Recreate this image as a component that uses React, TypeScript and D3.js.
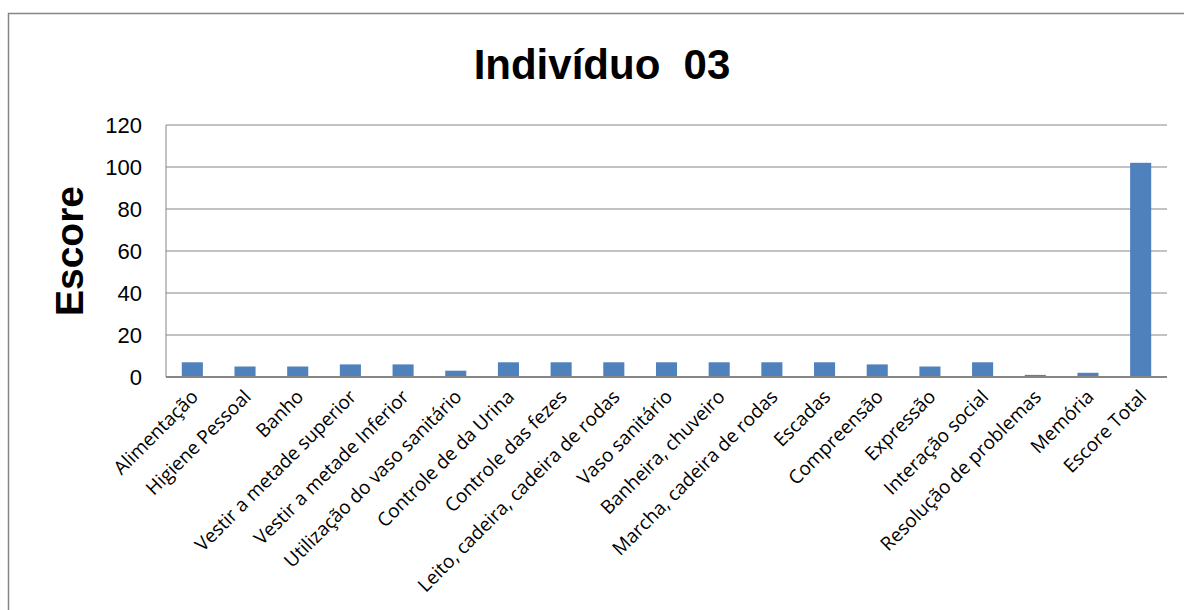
import * as d3 from "d3";

const categories = [
  "Alimentação",
  "Higiene Pessoal",
  "Banho",
  "Vestir a metade superior",
  "Vestir a metade Inferior",
  "Utilização do vaso sanitário",
  "Controle de da Urina",
  "Controle das fezes",
  "Leito, cadeira, cadeira de rodas",
  "Vaso sanitário",
  "Banheira, chuveiro",
  "Marcha, cadeira de rodas",
  "Escadas",
  "Compreensão",
  "Expressão",
  "Interação social",
  "Resolução de problemas",
  "Memória",
  "Escore Total",
];
const scores = [7, 5, 5, 6, 6, 3, 7, 7, 7, 7, 7, 7, 7, 6, 5, 7, 1, 2, 102];
const yTicks = [0, 20, 40, 60, 80, 100, 120];

const W = 1184, H = 610;
const plot = { left: 166, right: 1167, top: 125, bottom: 377 };
const font = "'Liberation Sans', Arial, sans-serif";
const labelFont = "'Open Sans', sans-serif";

export default function App() {
  const x = d3.scaleBand<string>()
    .domain(categories)
    .range([plot.left, plot.right])
    .paddingInner(0.6)
    .paddingOuter(0.3);
  const y = d3.scaleLinear().domain([0, 120]).range([plot.bottom, plot.top]);

  return (
    <svg width={W} height={H} style={{ position: "absolute", left: 0, top: 0, background: "#fff" }}>
      {/* chart border */}
      <rect x={8.5} y={13.5} width={1400} height={800} fill="none" stroke="#868686" strokeWidth={1.5} />

      <text x={602} y={79} textAnchor="middle" fontFamily={font} fontWeight="bold" fontSize={42}
        style={{ whiteSpace: "pre" }}>
        {"Indivíduo  03"}
      </text>

      {/* gridlines */}
      {yTicks.map(t => (
        <line key={t} x1={plot.left} x2={plot.right} y1={y(t)} y2={y(t)} stroke="#868686" strokeWidth={1} />
      ))}
      <line x1={plot.left} x2={plot.left} y1={plot.top} y2={plot.bottom} stroke="#868686" strokeWidth={1} />
      {yTicks.map(t => (
        <text key={"l" + t} x={142} y={y(t)} dy="0.35em" textAnchor="end" fontFamily={font} fontSize={22}>{t}</text>
      ))}

      <text transform={`translate(83, 251) rotate(-90)`} textAnchor="middle" fontFamily={font}
        fontWeight="bold" fontSize={39}>Escore</text>

      {/* bars */}
      {categories.map((c, i) => (
        <rect key={c} x={x(c)} y={y(scores[i])} width={x.bandwidth()} height={plot.bottom - y(scores[i])}
          fill="#4F81BD" />
      ))}
      <line x1={plot.left} x2={plot.right} y1={plot.bottom} y2={plot.bottom} stroke="#868686" strokeWidth={2} />

      {/* category labels */}
      {categories.map(c => {
        const cx = (x(c) ?? 0) + x.bandwidth() / 2;
        return (
          <text key={"c" + c} transform={`translate(${cx + 7}, 398) rotate(-45)`} textAnchor="end"
            fontFamily={labelFont} fontSize={19}>{c}</text>
        );
      })}
    </svg>
  );
}
